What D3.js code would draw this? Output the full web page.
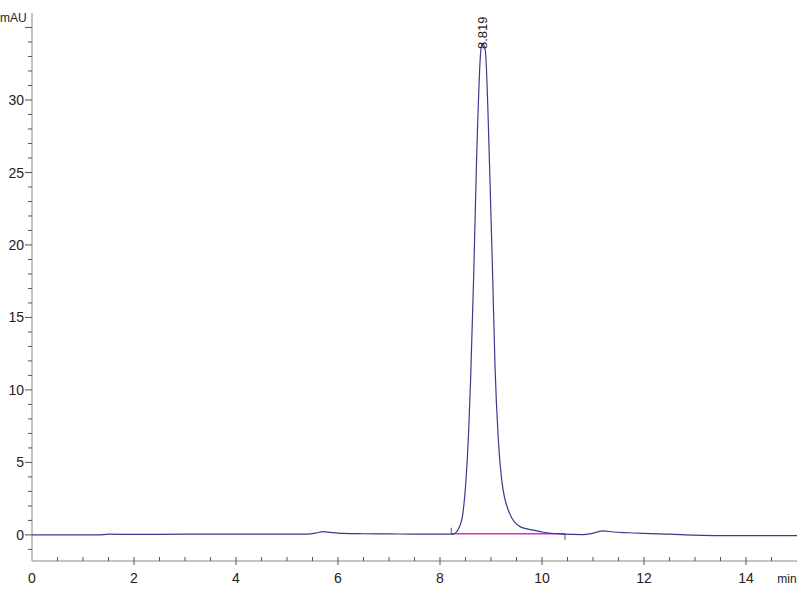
<!DOCTYPE html>
<html>
<head>
<meta charset="utf-8">
<script src="https://cdn.jsdelivr.net/npm/d3@7"></script>
<style>
  body { margin: 0; background: #fff; }
  svg { display: block; }
  text { font-family: "Liberation Sans Narrow", "Liberation Sans", Arial, sans-serif; fill: #222; }
</style>
</head>
<body>
<div class="chart"></div>
<script>
// retention time (min) / absorbance (mAU)
const times = [0, 1.3, 1.5, 2, 3, 4, 5, 5.4, 5.6, 5.7, 5.85, 6.1, 6.5, 7, 7.5, 8, 8.25,
  8.38, 8.45, 8.51, 8.56, 8.6, 8.66, 8.716, 8.8, 8.83, 8.888, 8.97, 9.033, 9.08, 9.14,
  9.21, 9.36, 9.57, 9.9, 10.0, 10.4, 10.8, 11.0, 11.2, 11.4, 11.7, 12.0, 12.5, 13.0, 13.5,
  14.0, 14.5, 15.0];
const signal = [0, 0, 0.05, 0.03, 0.05, 0.05, 0.05, 0.05, 0.15, 0.22, 0.18, 0.1, 0.08, 0.07,
  0.05, 0.05, 0.05, 0.55, 1.52, 3.8, 7.0, 10.7, 17.8, 25.7, 33.4, 33.9, 33.4, 25.7, 17.8,
  11.5, 6.8, 3.8, 1.52, 0.57, 0.28, 0.2, 0.05, 0.02, 0.12, 0.28, 0.2, 0.15, 0.1, 0.05, -0.02,
  -0.05, -0.05, -0.05, -0.05];

const peakTimes = [8.819];
const peakLabels = ['8.819'];
const baseStart = [8.22, 0.08];
const baseEnd = [10.45, 0.08];

const xMajor = [0, 2, 4, 6, 8, 10, 12, 14];
const yMajor = [0, 5, 10, 15, 20, 25, 30];

const width = 800, height = 600;
let x = d3.scaleLinear().domain([0, 15]).range([32, 797]);
let y = d3.scaleLinear().domain([-1.8, 36]).range([561, 13]);

let svg = d3.select('.chart').append('svg')
  .attr('width', width).attr('height', height);

// axes lines
svg.append('line').attr('x1', x(0)).attr('x2', x(0)).attr('y1', y(36)).attr('y2', y(-1.8))
  .attr('stroke', '#888').attr('stroke-width', 1);
svg.append('line').attr('x1', x(0)).attr('x2', x(15)).attr('y1', y(-1.8)).attr('y2', y(-1.8))
  .attr('stroke', '#888').attr('stroke-width', 1);

// y ticks
let yMinor = d3.range(-1, 36, 1);
svg.selectAll('.ytick').data(yMinor).enter().append('line')
  .attr('x1', x(0))
  .attr('x2', d => x(0) - (d % 5 === 0 ? 7 : 4))
  .attr('y1', d => y(d)).attr('y2', d => y(d))
  .attr('stroke', '#555');
svg.selectAll('.ylab').data(yMajor).enter().append('text')
  .attr('x', 24).attr('y', d => y(d)).attr('dy', '0.36em')
  .attr('text-anchor', 'end').attr('font-size', 14)
  .text(d => d);
svg.append('text').attr('x', 0).attr('y', 22).attr('font-size', 12).text('mAU');

// x ticks
let xMinor = d3.range(0.5, 15, 0.5);
svg.selectAll('.xtick').data(xMinor).enter().append('line')
  .attr('x1', d => x(d)).attr('x2', d => x(d))
  .attr('y1', d => y(-1.8) + (d % 2 === 0 ? 4 : 0))
  .attr('y2', y(-1.8) - 4)
  .attr('stroke', '#555');
svg.selectAll('.xlab').data(xMajor).enter().append('text')
  .attr('x', d => x(d)).attr('y', 583)
  .attr('text-anchor', 'middle').attr('font-size', 14)
  .text(d => d);
svg.append('text').attr('x', 787).attr('y', 583).attr('text-anchor', 'middle')
  .attr('font-size', 12).text('min');

// integration baseline
svg.append('line')
  .attr('x1', x(baseStart[0])).attr('y1', y(baseStart[1]))
  .attr('x2', x(baseEnd[0])).attr('y2', y(baseEnd[1]))
  .attr('stroke', '#e02ad0').attr('stroke-width', 1.6);
svg.append('line')
  .attr('x1', x(baseStart[0])).attr('x2', x(baseStart[0]))
  .attr('y1', y(baseStart[1])).attr('y2', y(baseStart[1]) - 6)
  .attr('stroke', '#555');
svg.append('line')
  .attr('x1', x(baseEnd[0])).attr('x2', x(baseEnd[0]))
  .attr('y1', y(baseEnd[1])).attr('y2', y(baseEnd[1]) + 6)
  .attr('stroke', '#555');

// trace
let line = d3.line()
  .x((d, i) => x(times[i]))
  .y(d => y(d))
  .curve(d3.curveMonotoneX);
svg.append('path').datum(signal)
  .attr('d', line)
  .attr('fill', 'none')
  .attr('stroke', '#3a3a8c')
  .attr('stroke-width', 1.2);

// peak label
svg.selectAll('.plab').data(peakTimes).enter().append('text')
  .attr('transform', d => `translate(${x(d) + 5}, 49) rotate(-90)`)
  .attr('font-size', 13)
  .text((d, i) => peakLabels[i]);
</script>
</body>
</html>
